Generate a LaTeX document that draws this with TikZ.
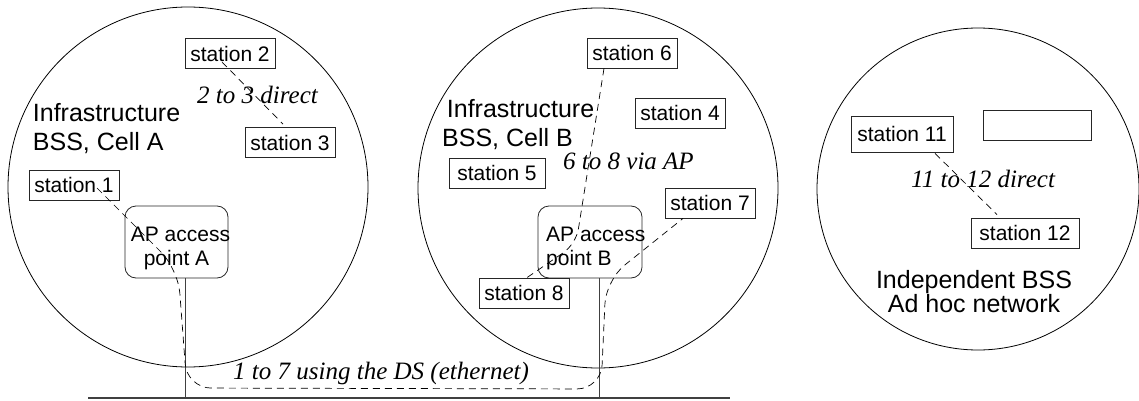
\documentclass[tikz,border=0pt]{standalone}
\usepackage{fontspec}
\setmainfont{Liberation Sans}
\newfontfamily\routefont{Liberation Serif}
\usetikzlibrary{calc}

\tikzset{
  cell/.style={draw=black, line width=0.8pt},
  ether/.style={draw=black!75, line width=1.4pt},
  wire/.style={draw=black!75, line width=1pt},
  stbox/.style={draw=black!85, line width=0.8pt, inner sep=0pt,
    minimum width=90pt, minimum height=30pt,
    font=\fontsize{21}{24}\selectfont},
  apbox/.style={draw=black!85, line width=0.8pt, rounded corners=11pt,
    inner sep=0pt, minimum width=103pt, minimum height=72pt},
  aptext/.style={inner sep=0pt, font=\fontsize{21}{24}\selectfont},
  celllabel/.style={inner sep=0pt, align=left, anchor=north west,
    font=\fontsize{25}{29.5}\selectfont},
  route/.style={inner sep=0pt, anchor=base west,
    font=\routefont\itshape\fontsize{25}{30}\selectfont},
  link/.style={draw=black, line width=0.7pt, dash pattern=on 7pt off 5pt}
}

\begin{document}
\begin{tikzpicture}[x=1pt, y=-1pt]
\useasboundingbox (0,0) rectangle (1139,401);

% the three cells
\draw[cell] (188,187) circle[radius=180pt];
\draw[cell] (598,188) circle[radius=180pt];
\draw[cell] (978,189) circle[radius=161pt];

% cell titles
\node[celllabel] (cellA) at (32.7,103) {Infrastructure\\BSS, Cell A};
\node[celllabel] (cellB) at (442,99) {\hspace*{4.7pt}Infrastructure\\BSS, Cell B};
\node[inner sep=0pt, align=center, anchor=north,
      font=\fontsize{25}{24}\selectfont] (ibss) at (974,270)
      {Independent BSS\\Ad hoc network};

% stations
\node[stbox] (s1) at (74,185) {station 1};
\node[stbox] (s2) at (230,53.5) {station 2};
\node[stbox] (s3) at (290,142.5) {station 3};
\node[stbox] (s4) at (680,113) {station 4};
\node[stbox, minimum width=96pt] (s5) at (497,173) {station 5};
\node[stbox] (s6) at (632,53) {station 6};
\node[stbox] (s7) at (710,203) {station 7};
\node[stbox] (s8) at (524,293) {station 8};
\node[stbox, minimum width=102pt, minimum height=36pt] (s11) at (902,134) {station 11};
\node[stbox, minimum width=108pt] (spare) at (1037,125) {};
\node[stbox, minimum width=108pt] (s12) at (1025,233) {station 12};

% access points
\node[apbox] (apA) at (176.5,242) {};
\node[apbox, minimum width=104pt] (apB) at (590,242) {};
\node[aptext, align=center] (apAtext) at (180.5,248.5) {AP access\\point A\hspace*{8pt}};
\node[aptext, align=left, anchor=west] (apBtext) at (546,248.5) {AP access\\point B};

% distribution system
\coordinate (ethL) at (88,398);
\coordinate (ethR) at (730,398);
\coordinate (tapA) at (185,398);
\coordinate (tapB) at (599,398);
\draw[ether] (ethL) -- (ethR);
\draw[wire] (apA.south -| tapA) -- (tapA);
\draw[wire] (apB.south -| tapB) -- (tapB);

% direct traffic
\draw[link] ($(s2.center)+(-8,8.5)$) -- ($(s3.north)+(-7,-3)$);
\draw[link] ($(s11.south)+(33,1)$) -- ($(s12.north)+(-28,-3)$);

% traffic relayed by AP B
\coordinate (bend68) at (576,244);
\draw[link, rounded corners=15pt] ($(s6.south)+(-28,0)$) -- (bend68) -- ($(s8.north)+(3,0)$);

% traffic over the distribution system
\coordinate (r17a) at ($(s1.center)+(23,3)$);
\coordinate (r17b) at (178,269);
\coordinate (r17c) at (187,388);
\coordinate (r17d) at (601,389);
\coordinate (r17e) at (606,280);
\draw[link, rounded corners=24pt] (r17a) -- (r17b) -- (r17c) -- (r17d) -- (r17e) -- ($(s7.south)+(-27,0)$);

% route labels
\node[route] (t23) at (197,103) {2 to 3 direct};
\node[route] (t68) at (563,169.5) {6 to 8 via AP};
\node[route] (t1112) at (911,187.5) {11 to 12 direct};
\node[route] (t17) at (233,379) {1 to 7 using the DS (ethernet)};
\end{tikzpicture}
\end{document}
